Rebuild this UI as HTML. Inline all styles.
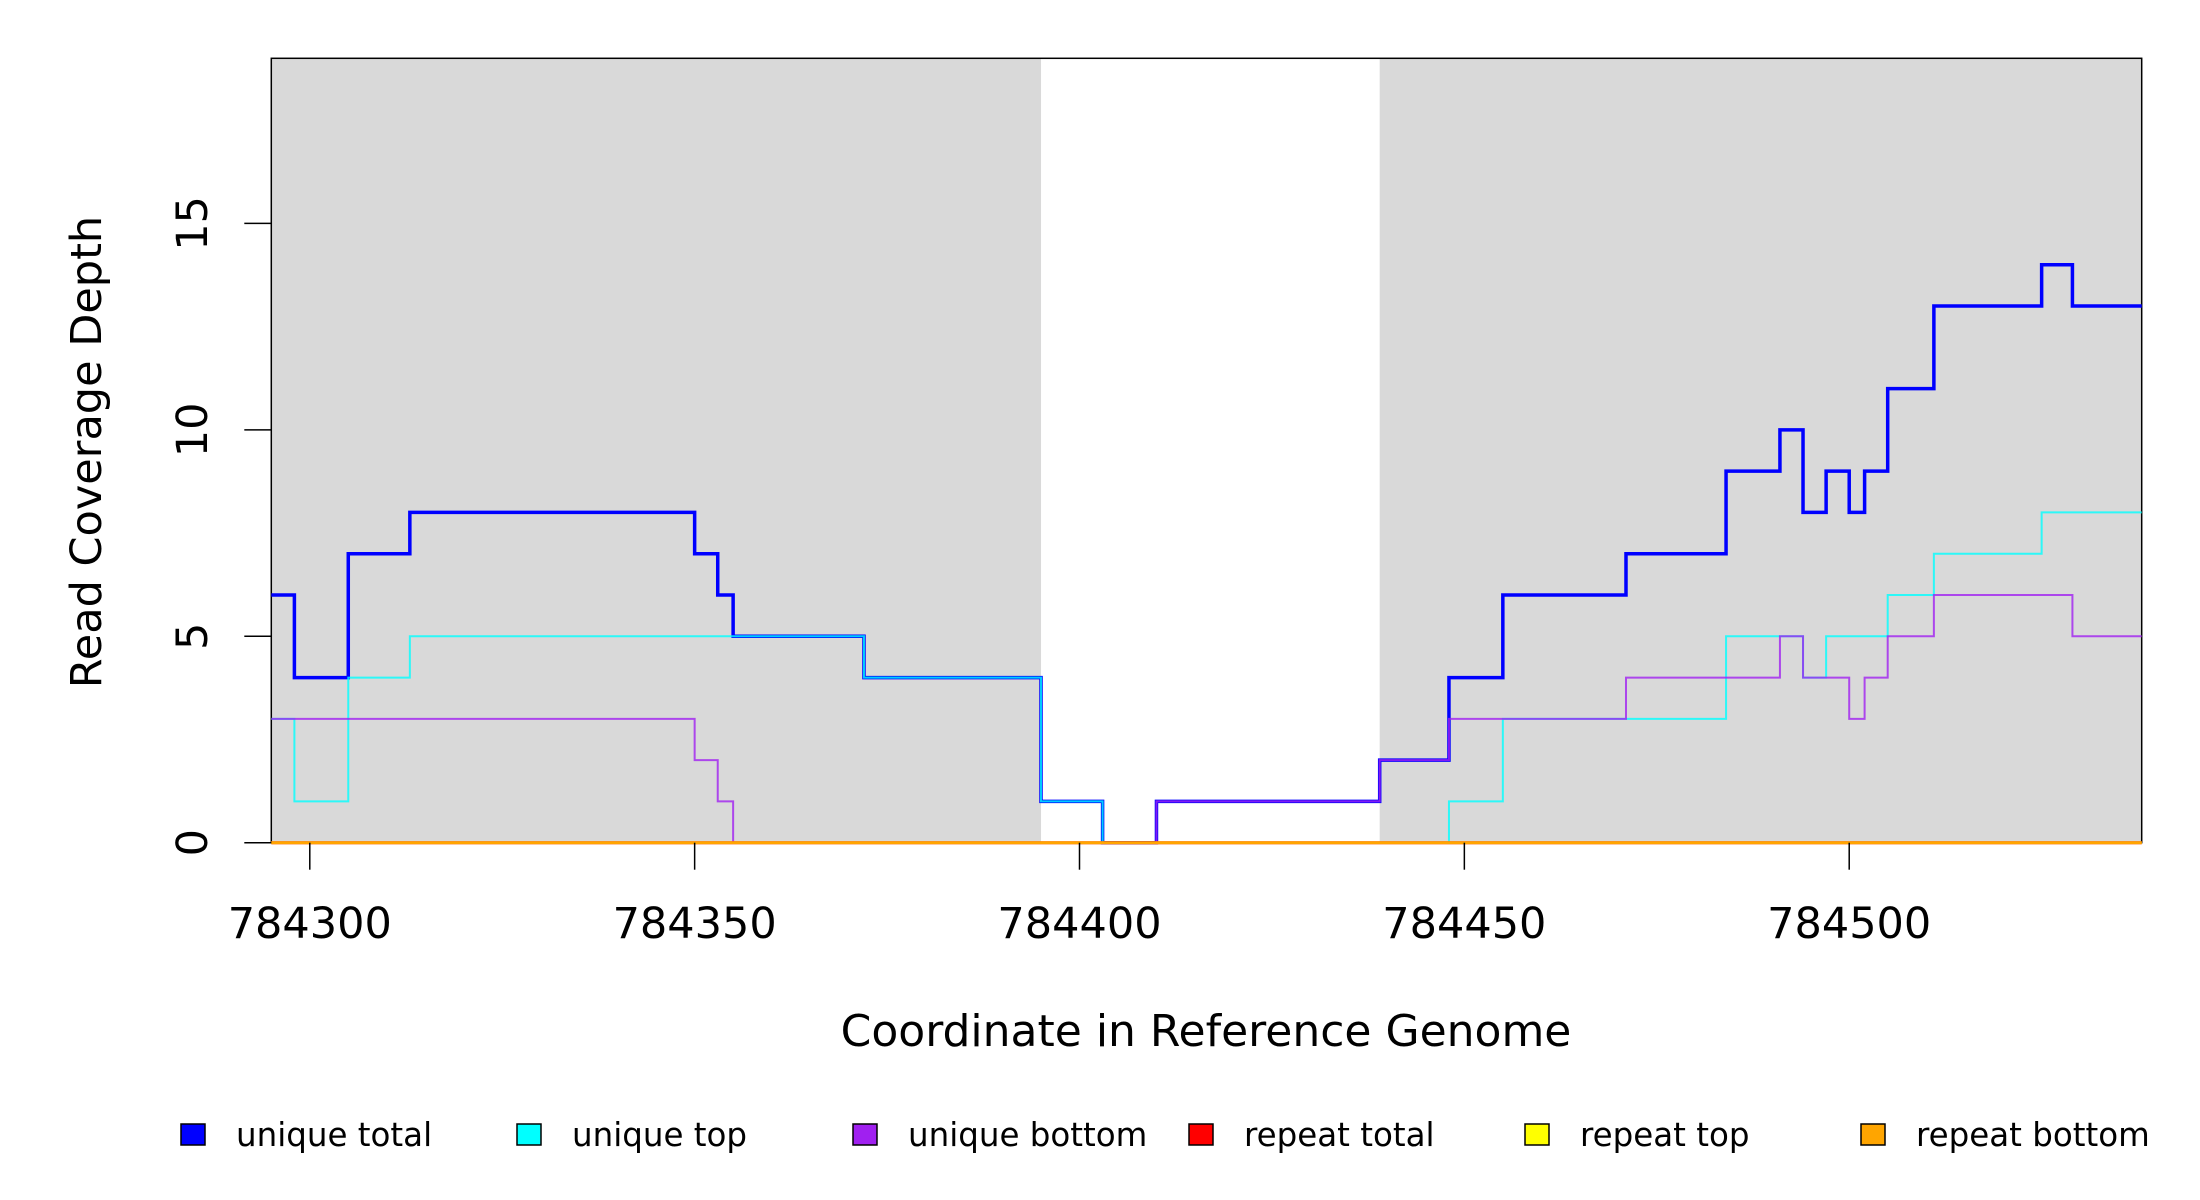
<!DOCTYPE html>
<html><head><meta charset="utf-8"><style>
html,body{margin:0;padding:0;background:#fff;}
svg{display:block;font-family:"DejaVu Sans","Liberation Sans",sans-serif;}
</style></head><body>
<svg id="chart" width="2200" height="1200" viewBox="0 0 2200 1200" xmlns="http://www.w3.org/2000/svg">
<g id="shade"></g>
<rect x="271.3" y="58.3" width="1870.4" height="784.4" fill="none" stroke="#000" stroke-width="1.5"/>
<g id="series"></g>
<g id="axes"></g>
<text x="1206" y="1046" font-size="44" text-anchor="middle">Coordinate in Reference Genome</text>
<text transform="translate(101,452) rotate(-90)" font-size="43" text-anchor="middle">Read Coverage Depth</text>
<g id="legend"></g>
</svg>
<script>
const xTicks = [784300, 784350, 784400, 784450, 784500];
const yTicks = [0, 5, 10, 15];
const shadeRegions = [[784295, 784395], [784439, 784538]];
const totalX = [784295, 784298, 784305, 784313, 784350, 784353, 784355, 784372, 784395, 784403, 784410, 784439, 784448, 784455, 784471, 784484, 784491, 784494, 784497, 784500, 784502, 784505, 784511, 784525, 784529];
const totalY = [6, 4, 7, 8, 7, 6, 5, 4, 1, 0, 1, 2, 4, 6, 7, 9, 10, 8, 9, 8, 9, 11, 13, 14, 13];
const topX = [784295, 784298, 784305, 784313, 784372, 784395, 784403, 784448, 784455, 784484, 784494, 784497, 784505, 784511, 784525];
const topY = [3, 1, 4, 5, 4, 1, 0, 1, 3, 5, 4, 5, 6, 7, 8];
const bottomX = [784295, 784350, 784353, 784355, 784410, 784439, 784448, 784471, 784491, 784494, 784500, 784502, 784505, 784511, 784529];
const bottomY = [3, 2, 1, 0, 1, 2, 3, 4, 5, 4, 3, 4, 5, 6, 5];
const repeatX = [784295];
const repeatY = [0];
const legendLabels = ["unique total", "unique top", "unique bottom", "repeat total", "repeat top", "repeat bottom"];
const legendColors = ["#0000ff", "#00ffff", "#a020f0", "#ff0000", "#ffff00", "#ffa500"];

const X0 = 784295, X1 = 784538, PL = 271.3, PR = 2141.7, PT = 58.3, PB = 842.7, YMAX = 19;
function sx(v){ return PL + (v - X0) / (X1 - X0) * (PR - PL); }
function sy(v){ return PB - v / YMAX * (PB - PT); }
const NS = "http://www.w3.org/2000/svg";
function mk(tag, attrs, parent){ const e = document.createElementNS(NS, tag); for (const k in attrs) e.setAttribute(k, attrs[k]); parent.appendChild(e); return e; }

const shade = document.getElementById('shade');
shadeRegions.forEach(r => {
  const e = mk('rect', {x: sx(r[0]), y: PT, width: sx(r[1]) - sx(r[0]), height: PB - PT, fill: '#d9d9d9'}, shade);
  
  
});

function stepPath(xs, ys){
  let d = 'M' + sx(xs[0]) + ',' + sy(ys[0]);
  for (let i = 1; i < xs.length; i++){ d += ' H' + sx(xs[i]) + ' V' + sy(ys[i]); }
  d += ' H' + sx(X1);
  return d;
}
const series = document.getElementById('series');
function line(xs, ys, color, w, name, op){
  const e = mk('path', {d: stepPath(xs, ys), fill: 'none', stroke: color, 'stroke-width': w, 'stroke-opacity': op}, series);
  
  
}
line(totalX, totalY, '#0000ff', 3.5, 'unique-total-line', 1);
line(topX, topY, '#00ffff', 2, 'unique-top-line', 0.8);
line(bottomX, bottomY, '#a020f0', 2, 'unique-bottom-line', 0.8);
line(repeatX, repeatY, '#ff0000', 3, 'repeat-total-line', 1);
line(repeatX, repeatY, '#ffff00', 2.5, 'repeat-top-line', 1);
line(repeatX, repeatY, '#ffa500', 3, 'repeat-bottom-line', 1);

const axes = document.getElementById('axes');
xTicks.forEach(t => {
  const l = mk('line', {x1: sx(t), x2: sx(t), y1: PB, y2: PB + 27, stroke: '#000', 'stroke-width': 1.5}, axes);
  
  
  const tx = mk('text', {x: sx(t), y: 938, 'font-size': 43, 'text-anchor': 'middle'}, axes);
  tx.textContent = t;
  
  
});
yTicks.forEach(t => {
  const l = mk('line', {x1: PL - 27, x2: PL, y1: sy(t), y2: sy(t), stroke: '#000', 'stroke-width': 1.5}, axes);
  
  
  const tx = mk('text', {transform: 'translate(207,' + sy(t) + ') rotate(-90)', 'font-size': 43, 'text-anchor': 'middle'}, axes);
  tx.textContent = t;
  
  
});

const legend = document.getElementById('legend');
legendLabels.forEach((lab, i) => {
  const bx = 181 + i * 336;
  const r = mk('rect', {x: bx, y: 1124, width: 24, height: 21, fill: legendColors[i], stroke: '#000', 'stroke-width': 1.5}, legend);
  
  
  const tx = mk('text', {x: bx + 55, y: 1146, 'font-size': 32.5}, legend);
  tx.textContent = lab;
  
  
});
</script>
</body></html>
